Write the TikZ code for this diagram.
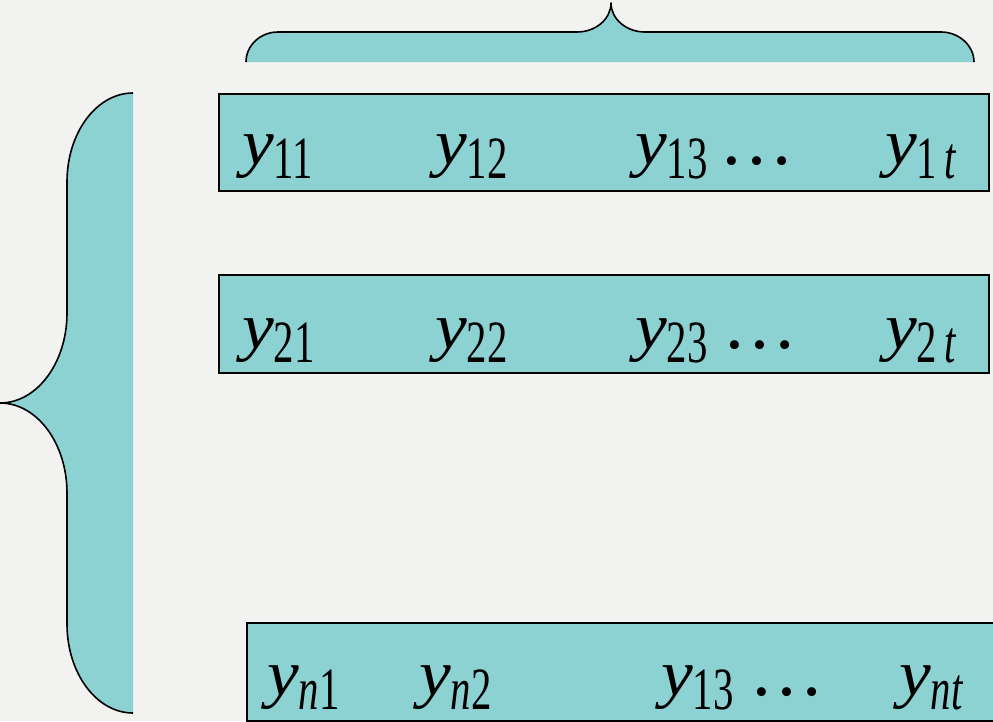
\documentclass[tikz,border=0pt]{standalone}
\usepackage{graphicx}
\usepackage{fontspec}
\setmainfont{Liberation Serif}
\definecolor{bg}{HTML}{F2F2F0}
\definecolor{tealfill}{HTML}{8DD2D3}
\newcommand{\Yl}[1]{\scalebox{1.1}[1]{\fontsize{65}{65}\selectfont\itshape y}\raisebox{-14pt}{\scalebox{0.68}[1]{\fontsize{60}{60}\selectfont #1}}}
\newcommand{\Dts}{{\fontsize{75}{75}\selectfont …}}
\tikzset{
  rowbox/.style={draw=black, line width=2pt, fill=tealfill, rectangle, inner sep=0pt, anchor=north west},
  lab/.style={anchor=base west, inner sep=0pt},
  braceline/.style={draw=black, line width=1.6pt, line join=round}
}
\begin{document}
\begin{tikzpicture}[x=1pt, y=-1pt]
\useasboundingbox (0,0) rectangle (993,721);
\fill[bg] (0,0) rectangle (993,721);
% left brace
\fill[tealfill] (133,93) .. controls (96.5,93) and (67,132.8) .. (67,182) -- (67,313)
  .. controls (67,362.7) and (37,403) .. (0,403)
  .. controls (37,403) and (67,443.3) .. (67,493) -- (67,624)
  .. controls (67,673.2) and (96.5,713) .. (133,713) -- cycle;
\draw[braceline] (133,93) .. controls (96.5,93) and (67,132.8) .. (67,182) -- (67,313)
  .. controls (67,362.7) and (37,403) .. (0,403)
  .. controls (37,403) and (67,443.3) .. (67,493) -- (67,624)
  .. controls (67,673.2) and (96.5,713) .. (133,713);
% top brace
\fill[tealfill] (246,62) .. controls (246,45.4) and (260.3,32) .. (278,32) -- (577,32)
  .. controls (595.8,32) and (611,19) .. (611,3)
  .. controls (611,19) and (626.2,32) .. (645,32) -- (941,32)
  .. controls (958.7,32) and (974,45.4) .. (974,62) -- cycle;
\draw[braceline] (246,62) .. controls (246,45.4) and (260.3,32) .. (278,32) -- (577,32)
  .. controls (595.8,32) and (611,19) .. (611,3)
  .. controls (611,19) and (626.2,32) .. (645,32) -- (941,32)
  .. controls (958.7,32) and (974,45.4) .. (974,62);
% rows
\node[rowbox, minimum width=770pt, minimum height=97pt] (r1) at (218,93) {};
\node[rowbox, minimum width=770pt, minimum height=98pt] (r2) at (218,274) {};
\node[rowbox, minimum width=752pt, minimum height=98pt] (r3) at (246,622) {};
% row 1
\node[lab] (l11) at (242,164) {\Yl{11}};
\node[lab] (l12) at (435,164) {\Yl{12}};
\node[lab] (l13) at (635,164) {\Yl{13}};
\node[lab] (d1) at (719,164) {\Dts};
\node[lab] (l1t) at (885,164) {\Yl{1\,\textit{t}}};
% row 2
\node[lab] (l21) at (242,348) {\Yl{21}};
\node[lab] (l22) at (435,348) {\Yl{22}};
\node[lab] (l23) at (635,348) {\Yl{23}};
\node[lab] (d2) at (722,348) {\Dts};
\node[lab] (l2t) at (885,348) {\Yl{2\,\textit{t}}};
% row 3
\node[lab] (ln1) at (267,695) {\Yl{\textit{n}1}};
\node[lab] (ln2) at (419,695) {\Yl{\textit{n}2}};
\node[lab] (ln3) at (661,695) {\Yl{13}};
\node[lab] (d3) at (749,695) {\Dts};
\node[lab] (lnt) at (899,695) {\Yl{\textit{nt}}};
\end{tikzpicture}
\end{document}
